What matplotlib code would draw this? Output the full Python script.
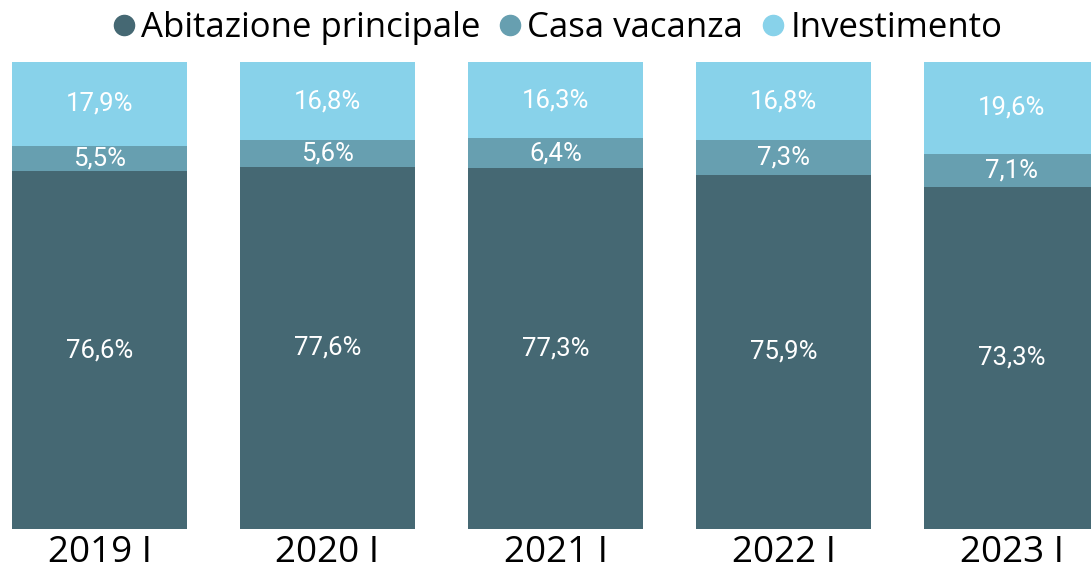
import matplotlib.pyplot as plt
from matplotlib.lines import Line2D

# Quote per finalità di acquisto (%)
periodi = ['2019 I', '2020 I', '2021 I', '2022 I', '2023 I']
abitazione = [76.6, 77.6, 77.3, 75.9, 73.3]
vacanza = [5.5, 5.6, 6.4, 7.3, 7.1]
investimento = [17.9, 16.8, 16.3, 16.8, 19.6]

serie = ['Abitazione principale', 'Casa vacanza', 'Investimento']
colori = ['#456873', '#679fb0', '#88d2ea']


def fmt(v):
    return f"{v:.1f}%".replace('.', ',')


fig = plt.figure(figsize=(10.91, 5.75), dpi=100)
ax = fig.add_axes([0, 46 / 575, 1, 467 / 575])

x = list(range(len(periodi)))
w = 175 / 228
bottom = [0] * len(x)
for vals, col in zip([abitazione, vacanza, investimento], colori):
    ax.bar(x, vals, width=w, bottom=bottom, color=col, linewidth=0)
    for xi, b, v in zip(x, bottom, vals):
        ax.text(xi, b + v / 2, fmt(v), ha='center', va='center',
                color='white', fontsize=18.5, family='Roboto')
    bottom = [b + v for b, v in zip(bottom, vals)]

ax.set_xlim(-99.5 / 228, (1091 - 99.5) / 228)
ax.set_ylim(0, 100)
ax.set_yticks([])
ax.set_xticks(x)
ax.set_xticklabels(periodi, fontsize=26.5, family='Open Sans')
ax.tick_params(axis='x', length=0, pad=4)
for s in ax.spines.values():
    s.set_visible(False)

handles = [Line2D([], [], marker='o', linestyle='', markersize=14.5,
                  markerfacecolor=c, markeredgecolor=c) for c in colori]
fig.legend(handles, serie, loc='center', bbox_to_anchor=(556 / 1091, 1 - 28 / 575),
           ncol=3, frameon=False, handlelength=0.8, handletextpad=0.1,
           columnspacing=0.45, borderpad=0,
           prop={'family': 'Open Sans', 'size': 25})

fig.savefig('out.png', dpi=100)
